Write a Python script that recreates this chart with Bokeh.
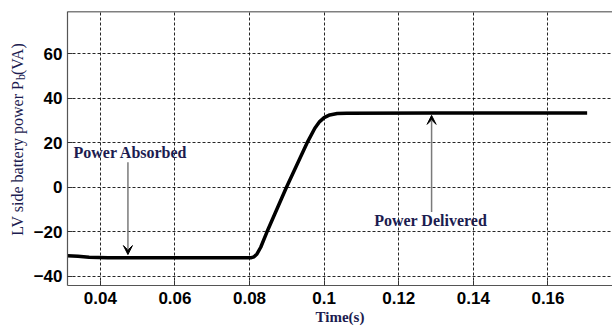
import math
from bokeh.plotting import figure
from bokeh.layouts import row
from bokeh.models import (FixedTicker, Label, Arrow, VeeHead, Span, Range1d)
from bokeh.core.properties import value
from bokeh.embed import file_html
from bokeh.resources import INLINE

# ---- data ----
time_s = [0.0312, 0.0340, 0.0370, 0.0420, 0.0600, 0.0805, 0.0812, 0.0820,
          0.0830, 0.0846, 0.0899, 0.0956, 0.0975, 0.0988, 0.1000, 0.1015,
          0.1035, 0.1060, 0.1300, 0.1705]
power_va = [-30.8, -31.1, -31.5, -31.7, -31.7, -31.7, -31.3, -30.0,
            -27.0, -20.4, 0.0, 20.5, 26.5, 29.5, 31.3, 32.5,
            33.1, 33.3, 33.4, 33.4]

x_ticks = [0.04, 0.06, 0.08, 0.10, 0.12, 0.14, 0.16]
x_tick_labels = ["0.04", "0.06", "0.08", "0.1", "0.12", "0.14", "0.16"]
y_ticks = [-40, -20, 0, 20, 40, 60]

x_range = (0.0312, 0.1773)
y_range = (-44.2, 79.0)

ann_absorbed = ("Power Absorbed", 0.0328, 15.6)      # text, x, y
arrow_absorbed = (0.0474, 11.2, -30.3)               # x, y_start, y_end
ann_delivered = ("Power Delivered", 0.1134, -15.0)
arrow_delivered = (0.1288, -11.2, 32.3)

x_title = "Time(s)"
y_title_parts = ["LV side battery power P", "b", "(VA)"]

TEXT_COLOR = "#1c1c50"
W, H = 612, 328
LAB_W = 30

# ---- narrow panel holding the rotated y title ----
t = figure(width=LAB_W, height=H, output_backend="svg", toolbar_location=None,
           x_range=Range1d(0, LAB_W), y_range=Range1d(H, 0),
           x_axis_type=None, y_axis_type=None,
           min_border_left=0, min_border_right=0, min_border_top=0,
           min_border_bottom=0)
t.outline_line_color = None
t.grid.visible = False
t.text(x=[17], y=[83], text=[y_title_parts[0]], angle=math.pi / 2,
       text_font=value("Liberation Serif"), text_font_size="16px",
       text_color=TEXT_COLOR, text_align="right", text_baseline="middle")
t.text(x=[20.5], y=[82], text=[y_title_parts[1]], angle=math.pi / 2,
       text_font=value("Liberation Serif"), text_font_size="12px",
       text_color=TEXT_COLOR, text_align="left", text_baseline="middle")
t.text(x=[17], y=[76], text=[y_title_parts[2]], angle=math.pi / 2,
       text_font=value("Liberation Serif"), text_font_size="16px",
       text_color=TEXT_COLOR, text_align="left", text_baseline="middle")

# ---- main plot ----
p = figure(width=W - LAB_W, height=H, output_backend="svg", toolbar_location=None,
           x_range=Range1d(*x_range), y_range=Range1d(*y_range),
           min_border_left=65 - LAB_W, min_border_right=0, min_border_top=11,
           min_border_bottom=43)
p.background_fill_color = "white"
p.border_fill_color = "white"
p.outline_line_color = None

for ax in (p.xaxis[0], p.yaxis[0]):
    ax.major_label_text_font = "Liberation Sans"
    ax.major_label_text_font_style = "bold"
    ax.major_label_text_font_size = "17px"
    ax.major_label_text_color = "black"
    ax.major_tick_in = 5
    ax.major_tick_out = 0
    ax.minor_tick_line_color = None
    ax.major_tick_line_color = "#333333"
    ax.axis_line_color = "#555555"
    ax.axis_line_width = 1.2

p.xaxis.ticker = FixedTicker(ticks=x_ticks)
p.xaxis.major_label_overrides = {tk: s for tk, s in zip(x_ticks, x_tick_labels)}
p.xaxis.major_label_standoff = 6
p.xaxis.axis_label = x_title
p.xaxis.axis_label_text_font = "Liberation Serif"
p.xaxis.axis_label_text_font_style = "bold"
p.xaxis.axis_label_text_font_size = "15px"
p.xaxis.axis_label_text_color = TEXT_COLOR
p.xaxis.axis_label_standoff = 2
p.yaxis.ticker = FixedTicker(ticks=y_ticks)
p.yaxis.major_label_standoff = 5

for g in (p.xgrid[0], p.ygrid[0]):
    g.grid_line_color = "black"
    g.grid_line_dash = "3 2"
    g.grid_line_width = 1
    g.grid_line_alpha = 0.85
p.xgrid.ticker = FixedTicker(ticks=x_ticks)
p.ygrid.ticker = FixedTicker(ticks=y_ticks)

p.add_layout(Span(location=y_range[1], dimension="width",
                  line_color="black", line_width=1.5))

p.line(time_s, power_va, line_color="black", line_width=3.5)

for (txt, tx, ty) in (ann_absorbed, ann_delivered):
    p.add_layout(Label(x=tx, y=ty, text=txt, text_font="Liberation Serif",
                       text_font_style="bold", text_font_size="16px",
                       text_color=TEXT_COLOR, text_baseline="middle",
                       text_align="left"))
for (ax_, ys, ye) in (arrow_absorbed, arrow_delivered):
    p.add_layout(Arrow(x_start=ax_, y_start=ys, x_end=ax_, y_end=ye,
                       line_color="#7a7a7a", line_width=1.5,
                       end=VeeHead(size=9, fill_color="black",
                                   line_color="black")))

layout = row(t, p, spacing=0)
open("out.html", "w").write(file_html(layout, INLINE))
